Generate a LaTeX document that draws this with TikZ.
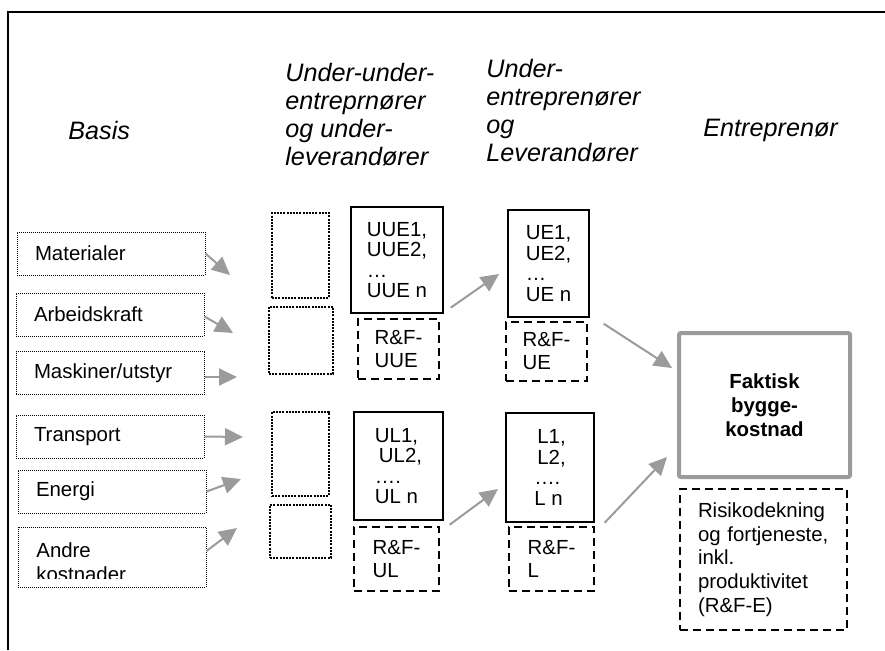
\documentclass[tikz,border=0pt]{standalone}
\usepackage{fontspec}
\setmainfont{Liberation Sans}
\usetikzlibrary{arrows.meta}

\definecolor{arrowgray}{RGB}{155,155,155}
\newcommand{\bodyfont}{\fontsize{10.2pt}{12pt}\selectfont}
\newcommand{\listfont}{\fontsize{10.2pt}{10.3pt}\selectfont}
\newcommand{\rffont}{\fontsize{10.2pt}{11.5pt}\selectfont}
\newcommand{\riskfont}{\fontsize{10.2pt}{11.85pt}\selectfont}
\newcommand{\headfont}{\fontsize{12.6pt}{14pt}\selectfont\itshape}

\tikzset{
  header/.style={inner sep=0pt, align=left, font=\headfont},
  basebox/.style={draw, line width=0.5pt, dash pattern=on 0.5pt off 0.5pt,
    minimum width=94pt, minimum height=21.5pt, text width=76pt, inner xsep=9pt,
    align=left, font=\bodyfont},
  emptybox/.style={draw, line width=0.9pt, dash pattern=on 1pt off 0.6pt},
  listbox/.style={draw, line width=0.7pt, align=left, font=\listfont},
  rfbox/.style={draw, line width=0.75pt, dash pattern=on 4pt off 2.5pt, align=left, font=\rffont},
  grayarrow/.style={draw=arrowgray, line width=1pt, -{Triangle[length=9pt,width=8.5pt]}}
}

\begin{document}
\begin{tikzpicture}[x=0.5pt, y=-0.5pt]
  \useasboundingbox (0,0) rectangle (885,650);

  % Frame
  \draw[line width=1pt] (8,650) -- (8,12) -- (885,12);

  % Column headers
  \node[header, anchor=north west] (basis) at (68,121) {Basis};
  \node[header, anchor=north west] (uuhead) at (285,63) {Under-under-\\entreprnører\\og under-\\leverandører};
  \node[header, anchor=north west] (uhead) at (486,59) {Under-\\entreprenører\\og\\Leverandører};
  \node[header, anchor=north west] (ehead) at (703,119) {Entreprenør};

  % Basis boxes
  \node[basebox] (mat) at (111,253.5) {Materialer};
  \node[basebox] (arb) at (110,314.5) {Arbeidskraft};
  \node[basebox] (mask) at (110,373) {Maskiner/utstyr};
  \node[basebox] (trans) at (110,436.5) {Transport};
  \node[basebox] (energi) at (112,491.5) {Energi};
  \node[basebox, minimum height=30pt] (andre) at (112,557) {};
  \begin{scope}
    \clip ([yshift=4.5pt]andre.south west) rectangle (andre.north east);
    \node[inner sep=0pt, align=left, font=\bodyfont, anchor=north west] (andretext) at (36,542) {Andre\\kostnader};
  \end{scope}

  % Empty sub-sub boxes
  \node[emptybox, minimum width=28.5pt, minimum height=42.5pt] (uuea) at (300.5,255.5) {};
  \node[emptybox, minimum width=32pt, minimum height=33.5pt] (uueb) at (301,340.5) {};
  \node[emptybox, minimum width=28.5pt, minimum height=42pt] (ula) at (300.5,454) {};
  \node[emptybox, minimum width=30.5pt, minimum height=26.5pt] (ulb) at (300.5,531.5) {};

  % Sub-sub contractors and suppliers
  \node[listbox, minimum width=46pt, minimum height=53pt] (uue) at (397,260) {UUE1,\\UUE2,\\…\\UUE n};
  \node[rfbox, minimum width=40.5pt, minimum height=30pt] (rfuue) at (398.5,349) {R\&F-\\UUE};
  \node[listbox, minimum width=44.5pt, minimum height=54pt] (ul) at (398.5,466) {UL1,\\\hspace{2pt}UL2,\\….\\UL n};
  \node[rfbox, minimum width=42.5pt, minimum height=32pt] (rful) at (396.5,559) {R\&F-\\UL};

  % Sub contractors and suppliers
  \node[listbox, minimum width=40.5pt, minimum height=53.5pt] (ue) at (548.5,263.5) {UE1,\\UE2,\\…\\UE n};
  \node[rfbox, minimum width=40.5pt, minimum height=29.5pt] (rfue) at (546.5,351.5) {R\&F-\\UE};
  \node[listbox, minimum width=44pt, minimum height=54.5pt] (lev) at (550,467.5) {\hspace{1.5pt}L1,\\\hspace{1.5pt}L2,\\….\\L n};
  \node[rfbox, minimum width=42.5pt, minimum height=32pt] (rfl) at (551.5,559) {R\&F-\\L};

  % Contractor
  \node[draw=arrowgray, line width=2pt, rounded corners=1pt, minimum width=85.5pt, minimum height=72pt,
        align=center, font=\bodyfont\bfseries] (fak) at (764.5,405) {Faktisk\\bygge-\\kostnad};
  \node[rfbox, font=\riskfont, minimum width=83.5pt, minimum height=70.5pt, text width=65.5pt, inner xsep=9pt]
        (risk) at (763.5,559.5) {Risikodekning og fortjeneste, inkl.\\produktivitet (R\&F-E)};

  % Arrow tips
  \coordinate (tmat) at (230,275);
  \coordinate (tarb) at (233,333);
  \coordinate (tmask) at (237,377);
  \coordinate (ttrans) at (243,437);
  \coordinate (tenergi) at (241,479);
  \coordinate (tandre) at (237,528);
  \coordinate (tue) at (499,274);
  \coordinate (tlev) at (498,489);
  \coordinate (tfaka) at (672,368);
  \coordinate (tfakb) at (667,457);

  % Arrows
  \draw[grayarrow] (mat.east) -- (tmat);
  \draw[grayarrow] ([yshift=-1pt]arb.east) -- (tarb);
  \draw[grayarrow] ([yshift=-2pt]mask.east) -- (tmask);
  \draw[grayarrow] (trans.east) -- (ttrans);
  \draw[grayarrow] (energi.east) -- (tenergi);
  \draw[grayarrow] ([yshift=3pt]andre.east) -- (tandre);
  \draw[grayarrow] ([xshift=3.5pt,yshift=3pt]uue.south east) -- (tue);
  \draw[grayarrow] ([xshift=3pt,yshift=-2pt]ul.south east) -- (tlev);
  \draw[grayarrow] ([xshift=7pt,yshift=-3pt]ue.south east) -- (tfaka);
  \draw[grayarrow] ([xshift=5pt]lev.south east) -- (tfakb);
\end{tikzpicture}
\end{document}
